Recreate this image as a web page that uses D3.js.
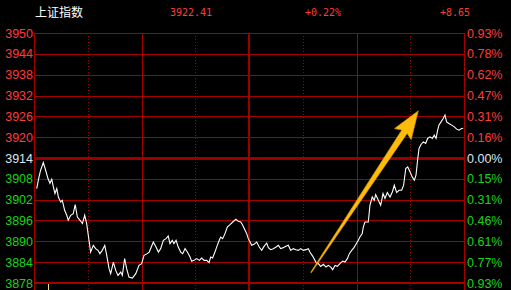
<!DOCTYPE html>
<html>
<head>
<meta charset="utf-8">
<script src="https://cdn.jsdelivr.net/npm/d3@7"></script>
<style>
  html, body { margin: 0; padding: 0; background: #000; }
  svg { display: block; }
</style>
</head>
<body>
<svg id="canvas" width="511" height="290"></svg>
<script>
// header
let title = '上证指数';
let lastPrice = '3922.41';
let changePct = '+0.22%';
let changePts = '+8.65';

let preClose = 3913.76;
let span = 36.4; // 0.93%

let leftLabels = ['3950', '3944', '3938', '3932', '3926', '3920', '3914', '3908', '3902', '3896', '3890', '3884', '3878'];
let rightLabels = ['0.93%', '0.78%', '0.62%', '0.47%', '0.31%', '0.16%', '0.00%', '0.15%', '0.31%', '0.46%', '0.61%', '0.77%', '0.93%'];

// minutes since 9:30 (trading minutes, 0-240)
let minutes = [1.5, 2.8, 3.7, 5.2, 6.5, 7.8, 8.9, 9.9, 10.8, 11.7, 12.7, 13.6, 14.9, 15.8, 17.1, 18.3, 19.1, 20.5, 21.9, 23.0,
  24.2, 25.7, 27.0, 28.3, 29.4, 30.7, 31.6, 33.1, 34.4, 35.7, 36.8, 38.1, 39.5, 40.6, 41.9, 42.8, 44.3, 45.6, 46.9, 48.4,
  49.3, 50.6, 51.7, 53.0, 54.9, 56.8, 58.6, 60.1, 61.4, 63.2, 64.3, 66.6, 68.1, 69.4, 70.7, 72.2, 73.7, 74.9, 75.9, 77.2,
  78.1, 79.3, 80.5, 81.9, 83.0, 84.3, 85.6, 87.1, 88.0, 89.3, 90.8, 92.3, 93.6, 94.9, 96.4, 97.7, 98.6, 99.7, 101.0, 102.3,
  103.4, 104.2, 105.3, 106.6, 107.9, 109.4, 110.9, 112.7, 114.0, 115.4, 116.5, 117.8, 118.7, 119.6, 120.6, 121.5, 122.8, 124.3, 125.7, 127.1,
  128.4, 129.9, 130.8, 132.1, 133.6, 135.1, 136.4, 137.7, 139.1, 140.6, 141.9, 143.3, 144.7, 146.2, 147.5, 148.9, 150.3, 151.8, 153.1, 154.0,
  155.6, 156.8, 157.8, 158.7, 160.0, 161.5, 163.0, 164.3, 165.6, 166.7, 168.0, 169.3, 170.8, 172.3, 173.6, 174.9, 176.0, 177.3, 178.6, 179.7,
  181.0, 181.9, 183.2, 183.8, 184.7, 186.6, 187.5, 188.8, 189.9, 190.7, 192.2, 193.5, 194.8, 195.9, 197.2, 198.7, 200.0, 201.1, 202.4, 203.7,
  205.2, 206.3, 207.5, 208.6, 209.9, 211.1, 212.3, 213.2, 214.2, 214.9, 216.0, 217.3, 218.6, 219.7, 221.0, 222.3, 223.4, 224.4, 225.3, 226.0,
  227.2, 228.4, 229.4, 230.3, 231.6, 233.1, 234.6, 235.9, 237.2, 238.7, 239.6];

let prices = [3904.86, 3908.25, 3910.20, 3912.45, 3910.20, 3907.78, 3906.41, 3907.58, 3905.33, 3903.41, 3904.86, 3902.41, 3900.96, 3901.45, 3898.54, 3897.08, 3895.62, 3897.08, 3897.57, 3900.20,
  3896.58, 3895.62, 3894.66, 3897.08, 3894.66, 3889.79, 3886.37, 3888.33, 3887.36, 3886.87, 3885.91, 3886.87, 3888.33, 3885.41, 3881.53, 3880.07, 3883.46, 3881.04, 3879.58, 3880.54,
  3879.58, 3884.45, 3881.53, 3879.08, 3878.79, 3880.07, 3882.49, 3882.99, 3885.41, 3885.91, 3886.37, 3889.29, 3887.83, 3886.37, 3887.36, 3889.79, 3890.28, 3891.04, 3888.82, 3889.79,
  3888.82, 3889.79, 3887.83, 3886.37, 3885.91, 3887.36, 3886.37, 3884.91, 3883.66, 3883.95, 3884.45, 3883.95, 3884.62, 3883.95, 3883.95, 3883.28, 3884.91, 3884.62, 3886.37, 3888.33,
  3889.79, 3890.75, 3890.28, 3891.74, 3893.66, 3894.36, 3895.12, 3895.91, 3895.33, 3895.12, 3894.16, 3892.70, 3891.74, 3890.28, 3889.29, 3888.33, 3888.62, 3889.29, 3887.83, 3886.87,
  3888.03, 3889.00, 3887.66, 3887.07, 3887.36, 3887.83, 3888.33, 3887.36, 3887.66, 3888.03, 3888.33, 3886.87, 3887.36, 3887.07, 3886.87, 3887.36, 3886.87, 3887.07, 3887.36, 3886.37,
  3885.12, 3883.95, 3882.99, 3882.99, 3882.20, 3882.79, 3882.00, 3882.49, 3882.00, 3881.24, 3882.49, 3882.20, 3882.99, 3883.75, 3883.46, 3884.45, 3885.91, 3886.87, 3887.66, 3888.62,
  3889.79, 3890.75, 3891.74, 3893.66, 3895.12, 3895.12, 3899.99, 3902.41, 3901.45, 3903.11, 3901.45, 3899.99, 3903.41, 3901.95, 3903.70, 3902.41, 3903.87, 3905.83, 3903.70, 3904.37,
  3904.37, 3905.83, 3910.70, 3911.16, 3909.71, 3908.25, 3907.29, 3908.74, 3913.61, 3916.53, 3917.70, 3918.46, 3917.99, 3919.45, 3919.91, 3919.45, 3920.41, 3919.45, 3921.87, 3923.33,
  3924.29, 3925.28, 3926.24, 3924.29, 3923.82, 3923.33, 3922.83, 3922.16, 3921.87, 3922.36, 3922.41];

// arrow annotation: [minute, price] tail and tip
let arrowTail = [154.6, 3880.4];
let arrowTip = [214.5, 3927.5];

let canvas = d3.select('#canvas');

let plotLeft = 34, plotRight = 464, plotTop = 33, plotBottom = 283;

let x = d3.scaleLinear().domain([0, 240]).range([plotLeft, plotRight]);
let y = d3.scaleLinear().domain([preClose - span, preClose + span]).range([plotBottom, plotTop]);

let crisp = (v) => Math.round(v) + 0.5;

let gridColor = '#a30000';
let redText = '#ff3b3b';
let greenText = '#16d516';

let levels = d3.range(6, -7, -1).map((k) => preClose + k * span / 6);

// horizontal grid
canvas.append('g')
    .selectAll('line')
    .data(levels)
    .enter()
    .append('line')
    .attr('x1', plotLeft)
    .attr('x2', plotRight)
    .attr('y1', (d, i) => i === 12 ? Math.round(y(d)) : crisp(y(d)))
    .attr('y2', (d, i) => i === 12 ? Math.round(y(d)) : crisp(y(d)))
    .attr('stroke', (d, i) => i === 6 ? '#9a0000' : gridColor)
    .attr('stroke-width', (d, i) => i === 6 ? 3 : (i === 12 ? 2 : 1));

// vertical grid (every 30 minutes)
let vTicks = d3.range(0, 241, 30);
canvas.append('g')
    .selectAll('line')
    .data(vTicks)
    .enter()
    .append('line')
    .attr('x1', (d) => d === 120 ? Math.round(x(d)) : crisp(x(d)))
    .attr('x2', (d) => d === 120 ? Math.round(x(d)) : crisp(x(d)))
    .attr('y1', plotTop)
    .attr('y2', 290)
    .attr('stroke', (d) => d === 120 ? '#9a0000' : gridColor)
    .attr('stroke-width', (d) => d === 120 ? 2 : 1)
    .attr('stroke-dasharray', (d) => (d % 60 === 30) ? '1,2' : null);

// left axis labels
canvas.append('g')
    .selectAll('text')
    .data(levels)
    .enter()
    .append('text')
    .attr('x', plotLeft - 1)
    .attr('y', (d) => y(d))
    .attr('dy', '0.36em')
    .attr('text-anchor', 'end')
    .attr('font-family', 'Liberation Sans, Arial, sans-serif')
    .attr('font-size', 12.5)
    .attr('fill', (d, i) => i < 6 ? redText : (i === 6 ? '#dde6f0' : greenText))
    .text((d, i) => leftLabels[i]);

// right axis labels
canvas.append('g')
    .selectAll('text')
    .data(levels)
    .enter()
    .append('text')
    .attr('x', plotRight + 3)
    .attr('y', (d) => y(d))
    .attr('dy', '0.36em')
    .attr('font-family', 'Liberation Sans, Arial, sans-serif')
    .attr('font-size', 12.5)
    .attr('fill', (d, i) => i < 6 ? redText : (i === 6 ? '#dde6f0' : greenText))
    .text((d, i) => rightLabels[i]);

// header
canvas.append('text')
    .attr('x', 35)
    .attr('y', 17)
    .attr('font-family', 'Noto Sans CJK SC, sans-serif')
    .attr('font-size', 12)
    .attr('fill', '#ffffff')
    .text(title);

let header = [[170, lastPrice], [305, changePct], [440, changePts]];
canvas.append('g')
    .selectAll('text')
    .data(header)
    .enter()
    .append('text')
    .attr('x', (d) => d[0])
    .attr('y', 16)
    .attr('font-family', 'DejaVu Sans Mono, monospace')
    .attr('font-size', 10)
    .attr('fill', redText)
    .text((d) => d[1]);

// first volume bar peeking in at the bottom
canvas.append('line')
    .attr('x1', crisp(x(8)))
    .attr('x2', crisp(x(8)))
    .attr('y1', 284)
    .attr('y2', 290)
    .attr('stroke', '#e8e070')
    .attr('stroke-width', 1);

// price line
let points = minutes.map((m, i) => [m, prices[i]]);
let line = d3.line()
    .x((d) => x(d[0]))
    .y((d) => y(d[1]));

canvas.append('path')
    .datum(points)
    .attr('d', line)
    .attr('fill', 'none')
    .attr('stroke', '#ffffff')
    .attr('stroke-width', 1.1);

// arrow
let tx = x(arrowTail[0]), ty = y(arrowTail[1]);
let hx = x(arrowTip[0]), hy = y(arrowTip[1]);
let len = Math.hypot(hx - tx, hy - ty);
let ux = (hx - tx) / len, uy = (hy - ty) / len;
let nx = -uy, ny = ux;
let headLen = 25, headHalf = 10, shaftHalf = 3.2;
let bx = hx - ux * headLen, by = hy - uy * headLen;
let arrowPts = [
    [tx + nx * 0.4, ty + ny * 0.4],
    [bx + nx * shaftHalf, by + ny * shaftHalf],
    [bx + nx * headHalf - ux * 3, by + ny * headHalf - uy * 3],
    [hx, hy],
    [bx - nx * headHalf - ux * 3, by - ny * headHalf - uy * 3],
    [bx - nx * shaftHalf, by - ny * shaftHalf],
    [tx - nx * 0.4, ty - ny * 0.4]
];
canvas.append('path')
    .attr('d', 'M' + arrowPts.map((p) => p.join(',')).join('L') + 'Z')
    .attr('fill', '#fbbc0a')
    .attr('stroke', '#e49a00')
    .attr('stroke-width', 0.6);
</script>
</body>
</html>
